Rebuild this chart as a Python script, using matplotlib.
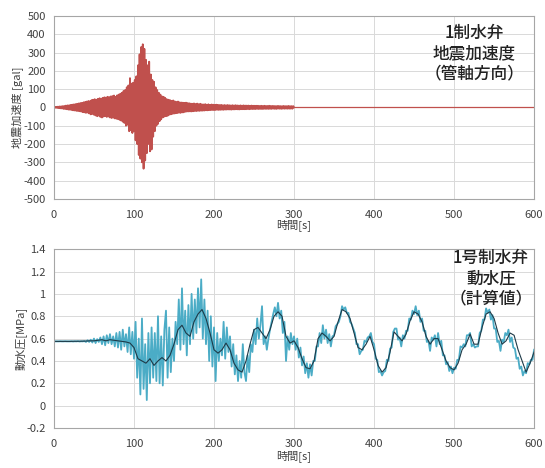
import numpy as np
import matplotlib
matplotlib.use("Agg")
import matplotlib.pyplot as plt

plt.rcParams["font.family"] = ["Noto Sans CJK JP", "DejaVu Sans"]
plt.rcParams["axes.unicode_minus"] = False

# --- seismic acceleration [gal], one reading per second, 0..300 s (alternating peaks)
acc_step = 1.0
acc = [
    0, 2, -2, 3, -3, 4, -4, 5, -5, 6,
    -6, 7, -8, 8, -9, 10, -10, 11, -12, 12,
    -13, 14, -14, 15, -16, 17, -17, 18, -19, 20,
    -20, 22, -21, 24, -23, 25, -26, 28, -27, 30,
    -30, 32, -28, 35, -33, 34, -38, 40, -36, 42,
    -40, 45, -44, 42, -48, 47, -45, 50, -52, 48,
    -55, 52, -50, 55, -48, 54, -52, 58, -50, 56,
    -55, 60, -58, 62, -56, 65, -60, 58, -62, 66,
    -64, 70, -68, 75, -72, 80, -78, 90, -85, 95,
    -100, 110, -95, 120, -130, 160, -125, 130, -140, 135,
    -130, 150, -180, 170, -200, 230, -260, 290, -280, 330,
    -300, 345, -335, 320, -290, 260, -250, 230, -200, 250,
    -240, 180, -230, 150, -160, 140, -130, 110, -100, 95,
    -90, 80, -75, 70, -65, 60, -55, 58, -50, 52,
    -48, 45, -46, 42, -40, 40, -38, 36, -35, 38,
    -34, 33, -32, 30, -31, 32, -29, 28, -30, 27,
    -28, 26, -27, 25, -24, 26, -23, 24, -22, 23,
    -22, 21, -22, 20, -21, 22, -20, 19, -20, 21,
    -19, 18, -19, 20, -18, 17, -18, 16, -17, 18,
    -16, 15, -16, 17, -15, 14, -15, 16, -14, 15,
    -15, 14, -14, 15, -13, 14, -14, 13, -13, 14,
    -13, 12, -13, 13, -12, 12, -12, 13, -11, 12,
    -12, 11, -12, 12, -11, 11, -11, 12, -10, 11,
    -11, 10, -11, 11, -10, 10, -10, 11, -10, 10,
    -10, 10, -9, 10, -10, 9, -9, 10, -9, 9,
    -9, 9, -9, 9, -8, 9, -9, 8, -8, 9,
    -9, 8, -8, 9, -8, 8, -8, 8, -8, 9,
    -8, 8, -8, 8, -7, 8, -8, 7, -8, 8,
    -7, 8, -7, 7, -8, 7, -7, 8, -7, 7,
    -7, 7, -7, 8, -7, 7, -7, 7, -7, 7,
    0,
]
acc_t_end = [300, 600]   # flat zero line after the record ends

# --- hydrodynamic pressure [MPa]
# raw (cyan) trace, one reading every 2 s, 0..600 s
p_raw_step = 2.0
p_raw = [
    0.575, 0.575, 0.575, 0.575, 0.576, 0.575, 0.575, 0.576, 0.575, 0.575,
    0.575, 0.576, 0.574, 0.576, 0.575, 0.577, 0.574, 0.576, 0.575, 0.578,
    0.57, 0.585, 0.57, 0.59, 0.565, 0.60, 0.56, 0.595, 0.57, 0.61,
    0.55, 0.62, 0.54, 0.63, 0.56, 0.64, 0.55, 0.62, 0.53, 0.65,
    0.52, 0.66, 0.50, 0.68, 0.53, 0.64, 0.48, 0.70, 0.46, 0.66,
    0.42, 0.75, 0.25, 0.60, 0.10, 0.78, 0.15, 0.55, 0.05, 0.65,
    0.20, 0.70, 0.25, 0.65, 0.22, 0.80, 0.20, 0.62, 0.18, 0.68,
    0.85, 0.25, 0.70, 0.30, 0.60, 0.40, 0.75, 0.55, 0.95, 0.50,
    1.05, 0.55, 0.85, 0.45, 0.90, 0.55, 1.00, 0.60, 0.95, 0.65,
    1.05, 0.70, 1.13, 0.60, 0.95, 0.55, 0.85, 0.40, 0.80, 0.35,
    0.70, 0.22, 0.65, 0.40, 0.60, 0.45, 0.75, 0.42, 0.70, 0.48,
    0.62, 0.35, 0.55, 0.28, 0.45, 0.22, 0.40, 0.25, 0.55, 0.30,
    0.22, 0.45, 0.30, 0.55, 0.48, 0.68, 0.55, 0.78, 0.60, 0.72,
    0.89, 0.55, 0.62, 0.50, 0.60, 0.68, 0.75, 0.82, 0.88, 0.80,
    0.92, 0.78, 0.85, 0.65, 0.75, 0.40, 0.62, 0.50, 0.65, 0.55,
    0.62, 0.50, 0.60, 0.43, 0.52, 0.36, 0.44, 0.29, 0.38, 0.25,
    0.37, 0.27, 0.40, 0.40, 0.53, 0.53, 0.65, 0.56, 0.72, 0.60,
    0.68, 0.56, 0.64, 0.53, 0.62, 0.63, 0.71, 0.73, 0.75, 0.80,
    0.89, 0.86, 0.88, 0.83, 0.83, 0.75, 0.73, 0.69, 0.65, 0.55,
    0.55, 0.46, 0.49, 0.50, 0.58, 0.57, 0.61, 0.62, 0.65, 0.57,
    0.55, 0.42, 0.41, 0.30, 0.31, 0.27, 0.30, 0.31, 0.41, 0.40,
    0.51, 0.52, 0.66, 0.69, 0.69, 0.59, 0.61, 0.53, 0.63, 0.60,
    0.67, 0.67, 0.78, 0.77, 0.85, 0.82, 0.89, 0.81, 0.85, 0.75,
    0.78, 0.67, 0.67, 0.57, 0.58, 0.49, 0.61, 0.59, 0.63, 0.53,
    0.65, 0.55, 0.58, 0.45, 0.45, 0.37, 0.39, 0.31, 0.35, 0.29,
    0.34, 0.33, 0.41, 0.41, 0.53, 0.52, 0.55, 0.53, 0.63, 0.63,
    0.65, 0.53, 0.55, 0.52, 0.53, 0.53, 0.65, 0.67, 0.77, 0.77,
    0.87, 0.83, 0.86, 0.77, 0.81, 0.69, 0.69, 0.57, 0.58, 0.49,
    0.59, 0.57, 0.65, 0.63, 0.68, 0.57, 0.61, 0.52, 0.51, 0.42,
    0.43, 0.33, 0.35, 0.27, 0.31, 0.29, 0.38, 0.37, 0.41, 0.41,
    0.50,
]
# smoothed (dark) trace, one reading every 5 s, 0..600 s
p_mean_step = 5.0
p_mean = [
    0.575, 0.575, 0.575, 0.575, 0.575, 0.576, 0.576, 0.577, 0.578, 0.58,
    0.58, 0.585, 0.59, 0.58, 0.59, 0.585, 0.58, 0.575, 0.57, 0.56,
    0.52, 0.42, 0.40, 0.38, 0.42, 0.36, 0.40, 0.43, 0.40, 0.45,
    0.55, 0.68, 0.72, 0.65, 0.62, 0.75, 0.82, 0.86, 0.78, 0.65,
    0.50, 0.47, 0.50, 0.56, 0.50, 0.38, 0.32, 0.30, 0.40, 0.55,
    0.68, 0.70, 0.65, 0.60, 0.68, 0.80, 0.84, 0.80, 0.62, 0.56,
    0.58, 0.52, 0.42, 0.34, 0.33, 0.40, 0.60, 0.65, 0.62, 0.58,
    0.62, 0.75, 0.86, 0.84, 0.78, 0.65, 0.52, 0.50, 0.55, 0.62,
    0.50, 0.36, 0.30, 0.34, 0.48, 0.66, 0.62, 0.58, 0.64, 0.76,
    0.84, 0.82, 0.75, 0.62, 0.55, 0.60, 0.60, 0.50, 0.40, 0.34,
    0.32, 0.38, 0.50, 0.55, 0.64, 0.55, 0.55, 0.70, 0.82, 0.84,
    0.78, 0.65, 0.55, 0.58, 0.65, 0.63, 0.50, 0.40, 0.30, 0.38,
    0.48,
]

top_label = "1制水弁\n地震加速度\n（管軸方向）"
bot_label = "1号制水弁\n動水圧\n（計算値）"

RED = "#c0504d"
CYAN = "#4bacc6"
DARK = "#1e3a48"
GRID = "#d9d9d9"
TXT = "#404040"


def style(ax, ylim, yticks, ylabels):
    ax.set_xlim(0, 600)
    ax.set_ylim(*ylim)
    ax.set_xticks(range(0, 601, 100))
    ax.set_yticks(yticks)
    ax.set_yticklabels(ylabels)
    ax.grid(True, color=GRID, lw=0.7)
    ax.set_axisbelow(True)
    ax.tick_params(length=0, labelsize=8, colors=TXT)
    ax.tick_params(axis="x", pad=8)
    ax.tick_params(axis="y", pad=6)
    for s in ax.spines.values():
        s.set_color("#a6a6a6")
        s.set_linewidth(0.8)


fig = plt.figure(figsize=(5.45, 4.68), dpi=100)
ax1 = fig.add_axes([0.099, 0.575, 0.881, 0.391])
ax2 = fig.add_axes([0.099, 0.0855, 0.881, 0.382])

t_acc = np.arange(len(acc)) * acc_step
ax1.plot(t_acc, acc, color=RED, lw=1.3)
ax1.plot(acc_t_end, [0, 0], color=RED, lw=0.9)
style(ax1, (-500, 500), range(-500, 501, 100),
      [str(v) for v in range(-500, 501, 100)])
ax1.set_xlabel("時間[s]", fontsize=8, color=TXT, labelpad=-1)
ax1.set_ylabel("地震加速度 [gal]", fontsize=8, color=TXT, labelpad=0)
ax1.text(0.875, 0.955, top_label, transform=ax1.transAxes, ha="center",
         va="top", fontsize=12, fontweight="medium", color="#222222",
         linespacing=1.15)

t_raw = np.arange(len(p_raw)) * p_raw_step
t_mean = np.arange(len(p_mean)) * p_mean_step
ax2.plot(t_raw, p_raw, color=CYAN, lw=1.3)
ax2.plot(t_mean, p_mean, color=DARK, lw=0.8)
yt = np.round(np.arange(-0.2, 1.41, 0.2), 1)
style(ax2, (-0.2, 1.4), yt,
      ["0" if v == 0 else ("1" if v == 1 else f"{v:g}") for v in yt])
ax2.set_xlabel("時間[s]", fontsize=8, color=TXT, labelpad=1)
ax2.set_ylabel("動水圧[MPa]", fontsize=8, color=TXT, labelpad=0)
ax2.text(0.91, 1.0, bot_label, transform=ax2.transAxes, ha="center",
         va="top", fontsize=12, fontweight="medium", color="#222222",
         linespacing=1.15)

fig.savefig("out.png", dpi=100)
